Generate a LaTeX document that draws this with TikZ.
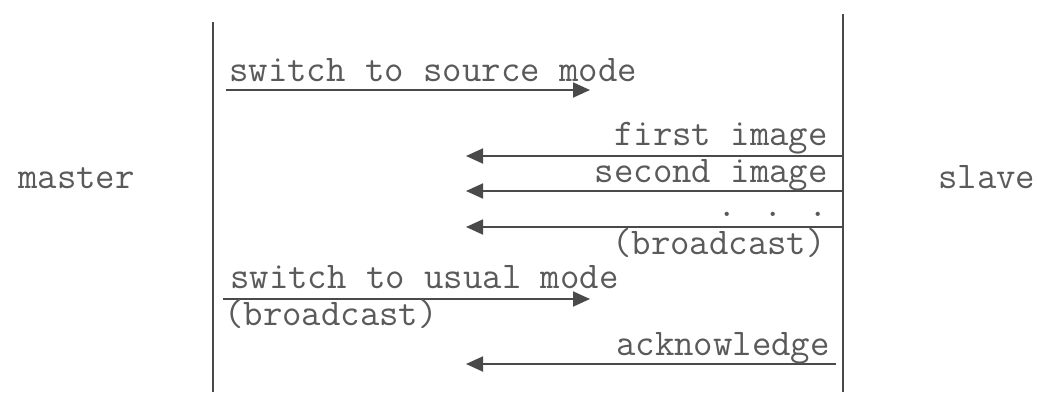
\documentclass[tikz,border=0pt]{standalone}
\usetikzlibrary{arrows.meta}
\definecolor{ink}{HTML}{4A4A4A}
\definecolor{txt}{HTML}{5A5A5A}
\tikzset{
  lbl/.style={inner sep=0pt, text=txt, font=\ttfamily\fontsize{37.7}{44}\selectfont},
  life/.style={draw=ink, line width=1.8pt},
  msg/.style={draw=ink, line width=1.8pt, -{Triangle[length=17pt,width=15pt]}},
}
\begin{document}
\begin{tikzpicture}[x=1pt,y=-1pt]
\useasboundingbox (0,0) rectangle (1037,392);
% lifelines
\coordinate (mt) at (213,22);
\coordinate (mb) at (213,392);
\coordinate (st) at (843,14);
\coordinate (sb) at (843,392);
\draw[life] (mt) -- (mb);
\draw[life] (st) -- (sb);
% side labels
\node[lbl, anchor=base west] (master) at (18,188) {master};
\node[lbl, anchor=base west] (slave) at (938,188) {slave};
% message 1
\coordinate (a1s) at (226,90);
\coordinate (a1e) at (590,90);
\draw[msg] (a1s) -- (a1e);
\node[lbl, anchor=base west] (t1) at (229,81) {switch to source mode};
% message 2
\coordinate (a2s) at (843,156);
\coordinate (a2e) at (466,156);
\draw[msg] (a2s) -- (a2e);
\node[lbl, anchor=base east] (t2) at (828,145) {first image};
% message 3
\coordinate (a3s) at (843,191);
\coordinate (a3e) at (466,191);
\draw[msg] (a3s) -- (a3e);
\node[lbl, anchor=base east] (t3) at (828,182) {second image};
% message 4
\coordinate (a4s) at (843,227);
\coordinate (a4e) at (466,227);
\draw[msg] (a4s) -- (a4e);
\node[lbl, anchor=base east] (t4) at (828,216) {. . .};
\node[lbl, anchor=base east] (t4b) at (826,254) {(broadcast)};
% message 5
\coordinate (a5s) at (223,299);
\coordinate (a5e) at (590,299);
\draw[msg] (a5s) -- (a5e);
\node[lbl, anchor=base west] (t5) at (230,288) {switch to usual mode};
\node[lbl, anchor=base west] (t5b) at (224,325) {(broadcast)};
% message 6
\coordinate (a6s) at (836,364);
\coordinate (a6e) at (466,364);
\draw[msg] (a6s) -- (a6e);
\node[lbl, anchor=base east] (t6) at (830,355) {acknowledge};
\end{tikzpicture}
\end{document}
